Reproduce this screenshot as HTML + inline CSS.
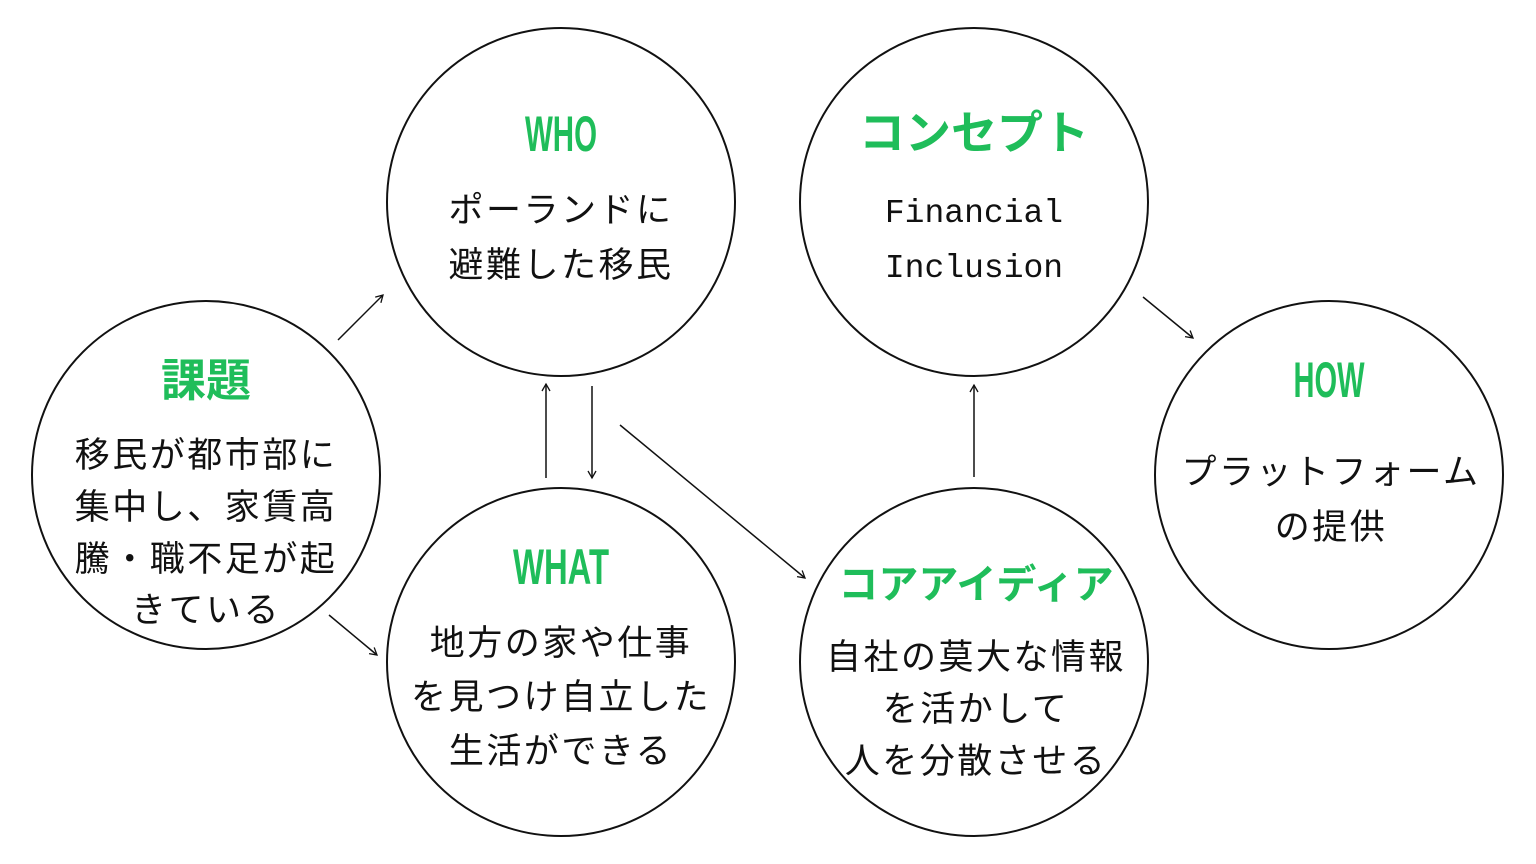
<!DOCTYPE html>
<html><head><meta charset="utf-8"><style>
html,body{margin:0;padding:0;background:#fff;}
svg{display:block;}
.t{font-family:"Liberation Sans","Noto Sans CJK JP",sans-serif;font-weight:bold;fill:#1fbd5a;}
.b{font-family:"Liberation Sans","Noto Sans CJK JP",sans-serif;font-size:35px;letter-spacing:2.5px;fill:#111;}
.m{font-family:"Liberation Mono",monospace;font-size:33px;fill:#111;}
.e{font-family:"Liberation Sans Narrow","Liberation Sans",sans-serif;font-weight:bold;font-size:50px;fill:#1fbd5a;}
</style></head><body>
<svg width="1536" height="864" viewBox="0 0 1536 864" xmlns="http://www.w3.org/2000/svg">
<defs><marker id="a" markerWidth="10" markerHeight="10" refX="8" refY="5" orient="auto" markerUnits="userSpaceOnUse"><path d="M1,1 L8,5 L1,9" fill="none" stroke="#111" stroke-width="1.3"/></marker></defs>
<g fill="none" stroke="#111" stroke-width="2">
<circle cx="206" cy="475" r="174"/>
<circle cx="561" cy="202" r="174"/>
<circle cx="561" cy="662" r="174"/>
<circle cx="974" cy="202" r="174"/>
<circle cx="974" cy="662" r="174"/>
<circle cx="1329" cy="475" r="174"/>
</g>
<g stroke="#111" stroke-width="1.5" marker-end="url(#a)">
<line x1="338" y1="340" x2="383" y2="295"/>
<line x1="329" y1="615" x2="377" y2="655"/>
<line x1="546" y1="478" x2="546" y2="384"/>
<line x1="592" y1="386" x2="592" y2="478"/>
<line x1="620" y1="425" x2="805" y2="578"/>
<line x1="974" y1="477" x2="974" y2="385"/>
<line x1="1143" y1="297" x2="1193" y2="338"/>
</g>
<g text-anchor="middle">
<text class="t" x="206" y="396" font-size="45">課題</text>
<text class="b" x="206" y="467">移民が都市部に</text>
<text class="b" x="206" y="519">集中し、家賃高</text>
<text class="b" x="206" y="571">騰・職不足が起</text>
<text class="b" x="206" y="622">きている</text>

<text class="e" x="561" y="151" textLength="72" lengthAdjust="spacingAndGlyphs">WHO</text>
<text class="b" x="561" y="222" letter-spacing="4">ポーランドに</text>
<text class="b" x="561" y="277" letter-spacing="4">避難した移民</text>

<text class="e" x="561" y="584" textLength="96" lengthAdjust="spacingAndGlyphs">WHAT</text>
<text class="b" x="561" y="655" letter-spacing="3">地方の家や仕事</text>
<text class="b" x="561" y="709" letter-spacing="3">を見つけ自立した</text>
<text class="b" x="561" y="763" letter-spacing="3">生活ができる</text>

<text class="t" x="974" y="149" font-size="46">コンセプト</text>
<text class="m" x="974" y="222">Financial</text>
<text class="m" x="974" y="277">Inclusion</text>

<text class="t" x="976" y="598" font-size="40">コアアイディア</text>
<text class="b" x="976" y="669">自社の莫大な情報</text>
<text class="b" x="976" y="721">を活かして</text>
<text class="b" x="976" y="773">人を分散させる</text>

<text class="e" x="1329" y="397" textLength="71" lengthAdjust="spacingAndGlyphs">HOW</text>
<text class="b" x="1331" y="484">プラットフォーム</text>
<text class="b" x="1331" y="539">の提供</text>
</g>
</svg>
</body></html>
